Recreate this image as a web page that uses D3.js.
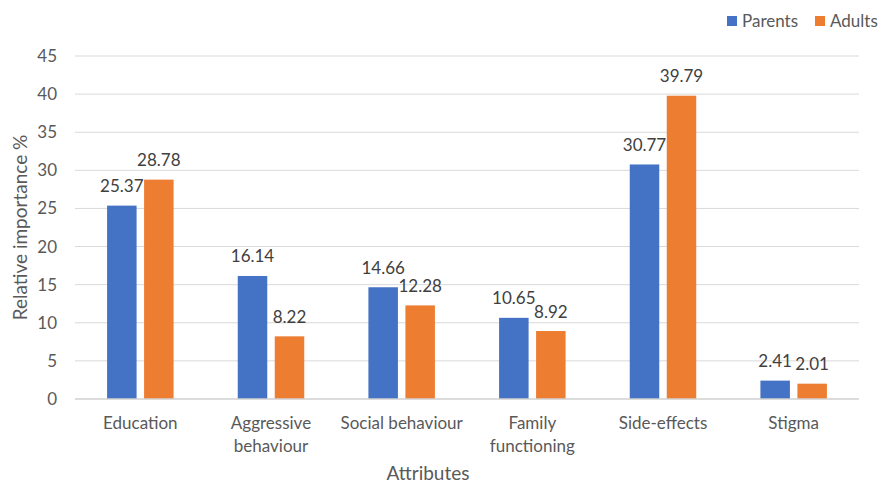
<!DOCTYPE html>
<html><head><meta charset="utf-8">
<script src="https://cdn.jsdelivr.net/npm/d3@7"></script>
<style>
body{margin:0;background:#fff;}
text{font-family:Lato,"Liberation Sans",sans-serif;}
</style></head>
<body><svg id="c" width="891" height="485"></svg>
<script>
const categories = [["Education"],["Aggressive","behaviour"],["Social behaviour"],["Family","functioning"],["Side-effects"],["Stigma"]];
const seriesNames = ["Parents","Adults"];
const parents = [25.37,16.14,14.66,10.65,30.77,2.41];
const adults = [28.78,8.22,12.28,8.92,39.79,2.01];
const yTicks = [0,5,10,15,20,25,30,35,40,45];
const colors = ["#4472C4","#ED7D31"];

(function(){
const svg = d3.select("#c");
const mL=75,mR=859,mT=56,mB=399;
const fs = 17;
const x = d3.scaleBand().domain(d3.range(categories.length)).range([mL,mR]);
const y = d3.scaleLinear().domain([0,45]).range([mB,mT]);
const barW = 29.5, gap = 7.5;
const sub = d3.scaleBand().domain([0,1]).range([0,2*barW+gap]).paddingInner(gap/(barW+gap));

svg.append("g").selectAll("line").data(yTicks.filter(d=>d>0)).join("line")
  .attr("x1",mL).attr("x2",mR).attr("y1",d=>y(d)).attr("y2",d=>y(d))
  .attr("stroke","#D9D9D9").attr("stroke-width",1);

svg.append("g").selectAll("text").data(yTicks).join("text")
  .attr("x",57).attr("y",d=>y(d)+6).attr("text-anchor","end")
  .attr("font-size",fs).attr("fill","#595959").text(d=>d);

const series = [parents, adults];
series.forEach((vals,si)=>{
  const g = svg.append("g");
  const off = (x.bandwidth()-(2*barW+gap))/2;
  g.selectAll("rect").data(vals).join("rect")
    .attr("x",(d,i)=>x(i)+off+sub(si)).attr("width",sub.bandwidth())
    .attr("y",d=>y(d)).attr("height",d=>y(0)-y(d))
    .attr("fill",colors[si]);
  g.selectAll("text").data(vals).join("text")
    .attr("x",(d,i)=>x(i)+off+sub(si)+sub.bandwidth()/2)
    .attr("y",d=>y(d)-13.5).attr("text-anchor","middle")
    .attr("font-size",fs).attr("fill","#404040").text(d=>d.toFixed(2));
});

svg.append("line").attr("x1",mL).attr("x2",mR).attr("y1",y(0)).attr("y2",y(0))
  .attr("stroke","#D0D0D0").attr("stroke-width",1.5);

const cg = svg.append("g");
categories.forEach((lines,i)=>{
  const t = cg.append("text").attr("text-anchor","middle").attr("font-size",fs).attr("fill","#595959");
  lines.forEach((l,j)=>t.append("tspan").attr("x",x(i)+x.bandwidth()/2).attr("y",429+j*23).text(l));
});

svg.append("text").attr("x",428).attr("y",480).attr("text-anchor","middle")
  .attr("font-size",19).attr("fill","#595959").text("Attributes");
svg.append("text").attr("transform",`translate(27,${(mT+mB)/2}) rotate(-90)`)
  .attr("text-anchor","middle").attr("font-size",19).attr("fill","#595959").text("Relative importance %");

const lx=[727,815];
seriesNames.forEach((n,i)=>{
  svg.append("rect").attr("x",lx[i]).attr("y",16).attr("width",10).attr("height",10).attr("fill",colors[i]);
  svg.append("text").attr("x",lx[i]+15).attr("y",27).attr("font-size",fs).attr("fill","#595959").text(n);
});
})();
</script></body></html>
